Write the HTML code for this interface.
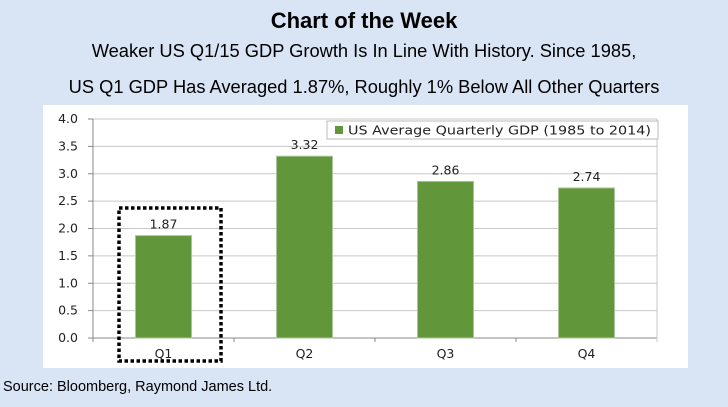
<!DOCTYPE html>
<html><head><meta charset="utf-8"><style>
body{margin:0;width:728px;height:407px;background:#d9e4f5;font-family:"Liberation Sans",sans-serif;overflow:hidden;position:relative}
.t{position:absolute;left:0;width:728px;text-align:center;color:#000}
</style></head><body>
<div class="t" style="top:8px;font-size:22px;font-weight:bold">Chart of the Week</div>
<div class="t" style="top:40px;font-size:18.3px">Weaker US Q1/15 GDP Growth Is In Line With History. Since 1985,</div>
<div class="t" style="top:76px;font-size:18.3px">US Q1 GDP Has Averaged 1.87%, Roughly 1% Below All Other Quarters</div>
<svg width="728" height="407" style="position:absolute;left:0;top:0">
<rect x="43" y="105" width="645" height="263" fill="#fff"/>
<g id="plot" font-family="DejaVu Sans, sans-serif"></g>
<text x="3" y="391" font-size="14.5" font-family="Liberation Sans, sans-serif">Source: Bloomberg, Raymond James Ltd.</text>
</svg>
<script>
const categories=["Q1","Q2","Q3","Q4"];
const values=[1.87,3.32,2.86,2.74];
const labels=["1.87","3.32","2.86","2.74"];
const ticks=[0,0.5,1,1.5,2,2.5,3,3.5,4];
const tickLabels=["0.0","0.5","1.0","1.5","2.0","2.5","3.0","3.5","4.0"];
const X0=93,X1=657,Y0=338,Y1=119;
const y=v=>Y0-(v/4)*(Y0-Y1);
const cw=(X1-X0)/categories.length;
const x=i=>X0+cw*i+cw/2;
const g=document.getElementById('plot');
const NS="http://www.w3.org/2000/svg";
function mk(t,a,txt){const e=document.createElementNS(NS,t);for(const k in a)e.setAttribute(k,a[k]);if(txt!=null)e.textContent=txt;g.appendChild(e);return e;}
ticks.forEach((v,i)=>{
 let l=mk('line',{x1:X0,x2:X1,y1:y(v),y2:y(v),stroke:v===0?'#888':'#c8c8c8','stroke-width':1});
 
 
 let tk=mk('line',{x1:X0-5,x2:X0,y1:y(v),y2:y(v),stroke:'#888'});
 
 
 let t=mk('text',{x:X0-15,y:y(v)+4,'text-anchor':'end','font-size':12.5,fill:'#222'},tickLabels[i]);
 
 
});
let ax=mk('line',{x1:X0,x2:X0,y1:Y1,y2:Y0+4,stroke:'#888'});


let rb=mk('line',{x1:X1,x2:X1,y1:Y1,y2:Y0+4,stroke:'#c8c8c8'});


for(let i=1;i<categories.length;i++){let c=mk('line',{x1:X0+cw*i,x2:X0+cw*i,y1:Y0,y2:Y0+4,stroke:'#888'});
 
 }
categories.forEach((c,i)=>{
 const bw=56;
 let b=mk('rect',{x:x(i)-bw/2,y:y(values[i]),width:bw,height:Y0-y(values[i]),fill:'#62963a',stroke:'#a9c49a','stroke-width':1});
 
 
 let lb=mk('text',{x:x(i),y:y(values[i])-7,'text-anchor':'middle','font-size':12.5,fill:'#222'},labels[i]);
 
 
 let xl=mk('text',{x:x(i),y:Y0+20,'text-anchor':'middle','font-size':12.5,fill:'#222'},c);
 
 
});
let lg=mk('rect',{x:327,y:121,width:331,height:18,fill:'#fff',stroke:'#bbb'});


let ls=mk('rect',{x:335,y:126,width:8,height:8,fill:'#62963a'});


let lt=mk('text',{x:348,y:134.5,'font-size':12.5,fill:'#222',textLength:303,lengthAdjust:'spacingAndGlyphs'},'US Average Quarterly GDP (1985 to 2014)');


let hb=mk('rect',{x:119,y:208,width:102,height:153,fill:'none',stroke:'#000','stroke-width':3.5,'stroke-dasharray':'3.5 2.5'});


</script>
</body></html>
